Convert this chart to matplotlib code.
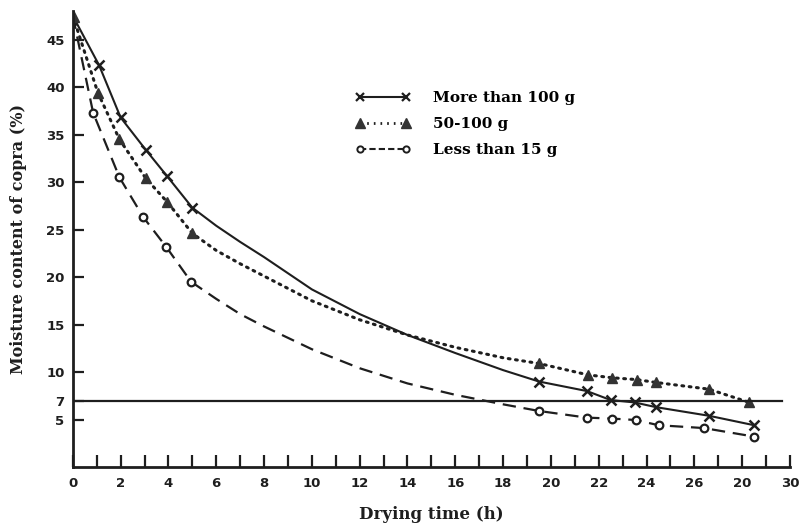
import matplotlib
matplotlib.use("Agg")
import matplotlib.pyplot as plt

# marker readings (h, % moisture)
big_t = [1.1, 2.0, 3.05, 3.95, 5.0, 19.5, 21.5, 22.5, 23.5, 24.4, 26.6, 28.5]
big_m = [42.3, 36.8, 33.4, 30.6, 27.3, 9.0, 8.0, 7.05, 6.8, 6.3, 5.4, 4.4]

mid_t = [1.05, 1.95, 3.05, 3.95, 5.0, 19.5, 21.55, 22.55, 23.6, 24.4, 26.6, 28.3]
mid_m = [39.4, 34.5, 30.4, 27.9, 24.6, 10.9, 9.7, 9.4, 9.2, 8.9, 8.2, 6.8]

small_t = [0.85, 1.95, 2.95, 3.9, 4.95, 19.5, 21.5, 22.55, 23.55, 24.5, 26.4, 28.5]
small_m = [37.3, 30.5, 26.3, 23.2, 19.5, 5.9, 5.2, 5.1, 4.95, 4.4, 4.1, 3.2]

# curve readings between the markers (no symbols drawn there)
start_m = 47.5
curve_t = [6, 7, 8, 10, 12, 14, 16, 18]
big_curve = [25.4, 23.7, 22.1, 18.7, 16.1, 13.9, 12.0, 10.2]
mid_curve = [22.8, 21.4, 20.1, 17.5, 15.5, 13.9, 12.6, 11.5]
small_curve = [17.7, 16.1, 14.8, 12.4, 10.4, 8.8, 7.6, 6.6]

safe_level = 7
labels = ["More than 100 g", "50-100 g", "Less than 15 g"]
xtick_vals = list(range(0, 31, 2))
xtick_text = ["0", "2", "4", "6", "8", "10", "12", "14", "16", "18", "20",
              "22", "24", "26", "20", "30"]
ytick_vals = [5, 7, 10, 15, 20, 25, 30, 35, 40, 45]

ink = "#1e1e1e"

fig = plt.figure(figsize=(8, 5.28), dpi=100)
ax = fig.add_axes([0.091, 0.1155, 0.8965, 0.8635])


def full(ts, ms, curve):
    t = [0] + ts[:5] + curve_t + ts[5:]
    m = [start_m] + ms[:5] + curve + ms[5:]
    return t, m


t, m = full(big_t, big_m, big_curve)
ax.plot(t, m, "-", color=ink, lw=1.5)
t, m = full(mid_t, mid_m, mid_curve)
ax.plot(t, m, color=ink, lw=2.2, linestyle=(0, (0.6, 1.8)), dash_capstyle="round")
t, m = full(small_t, small_m, small_curve)
ax.plot(t, m, color=ink, lw=1.6, linestyle=(0, (6, 3.5)))

ax.plot(big_t, big_m, "x", color=ink, ms=7, mew=1.8)
ax.plot(mid_t, mid_m, "^", color="#333333", ms=7.5)
ax.plot(small_t, small_m, "o", mfc="white", mec=ink, ms=5.5, mew=1.6)
ax.plot([0], [start_m], "^", color="#333333", ms=8)

ax.plot([0, 29.65], [safe_level, safe_level], "-", color=ink, lw=1.6)

# legend
h1, = ax.plot([], [], "-x", color=ink, lw=1.5, ms=6, mew=1.6)
h2, = ax.plot([], [], color=ink, lw=2, linestyle=(0, (0.6, 1.8)), marker="^",
              ms=7, mfc="#333333", mec="#333333")
h3, = ax.plot([], [], color=ink, lw=1.5, linestyle=(0, (3, 1.5)), marker="o",
              ms=4.5, mfc="white", mec=ink, mew=1.4)
ax.legend([h1, h2, h3], labels, numpoints=2, handlelength=3.6, frameon=False,
          loc="upper left", bbox_to_anchor=(0.375, 0.855), labelspacing=0.8,
          handletextpad=1.5,
          prop={"family": "DejaVu Serif", "weight": "bold", "size": 11})

ax.set_xlim(0, 30)
ax.set_ylim(0, 48)
for s in ["top", "right"]:
    ax.spines[s].set_visible(False)
for s in ["left", "bottom"]:
    ax.spines[s].set_linewidth(2)
    ax.spines[s].set_color(ink)

ax.set_xticks(xtick_vals)
ax.set_xticklabels(xtick_text)
ax.set_xticks(range(1, 30, 2), minor=True)
ax.set_yticks(ytick_vals)
ax.tick_params(axis="x", which="both", direction="in", length=9, width=1.6,
               colors=ink, labelsize=9.5, pad=7)
ax.tick_params(axis="y", direction="in", length=8, width=1.6, colors=ink,
               labelsize=9.5, pad=6)
ax.tick_params(axis="y", which="minor", left=False)
for lab in ax.get_xticklabels() + ax.get_yticklabels():
    lab.set_fontweight("bold")

ax.set_xlabel("Drying time (h)", family="DejaVu Serif", weight="bold",
              size=12, color=ink, labelpad=12)
ax.set_ylabel("Moisture content of copra (%)", family="DejaVu Serif",
              weight="bold", size=11.5, color=ink, labelpad=14)

fig.savefig("out.png", dpi=100, facecolor="white")
